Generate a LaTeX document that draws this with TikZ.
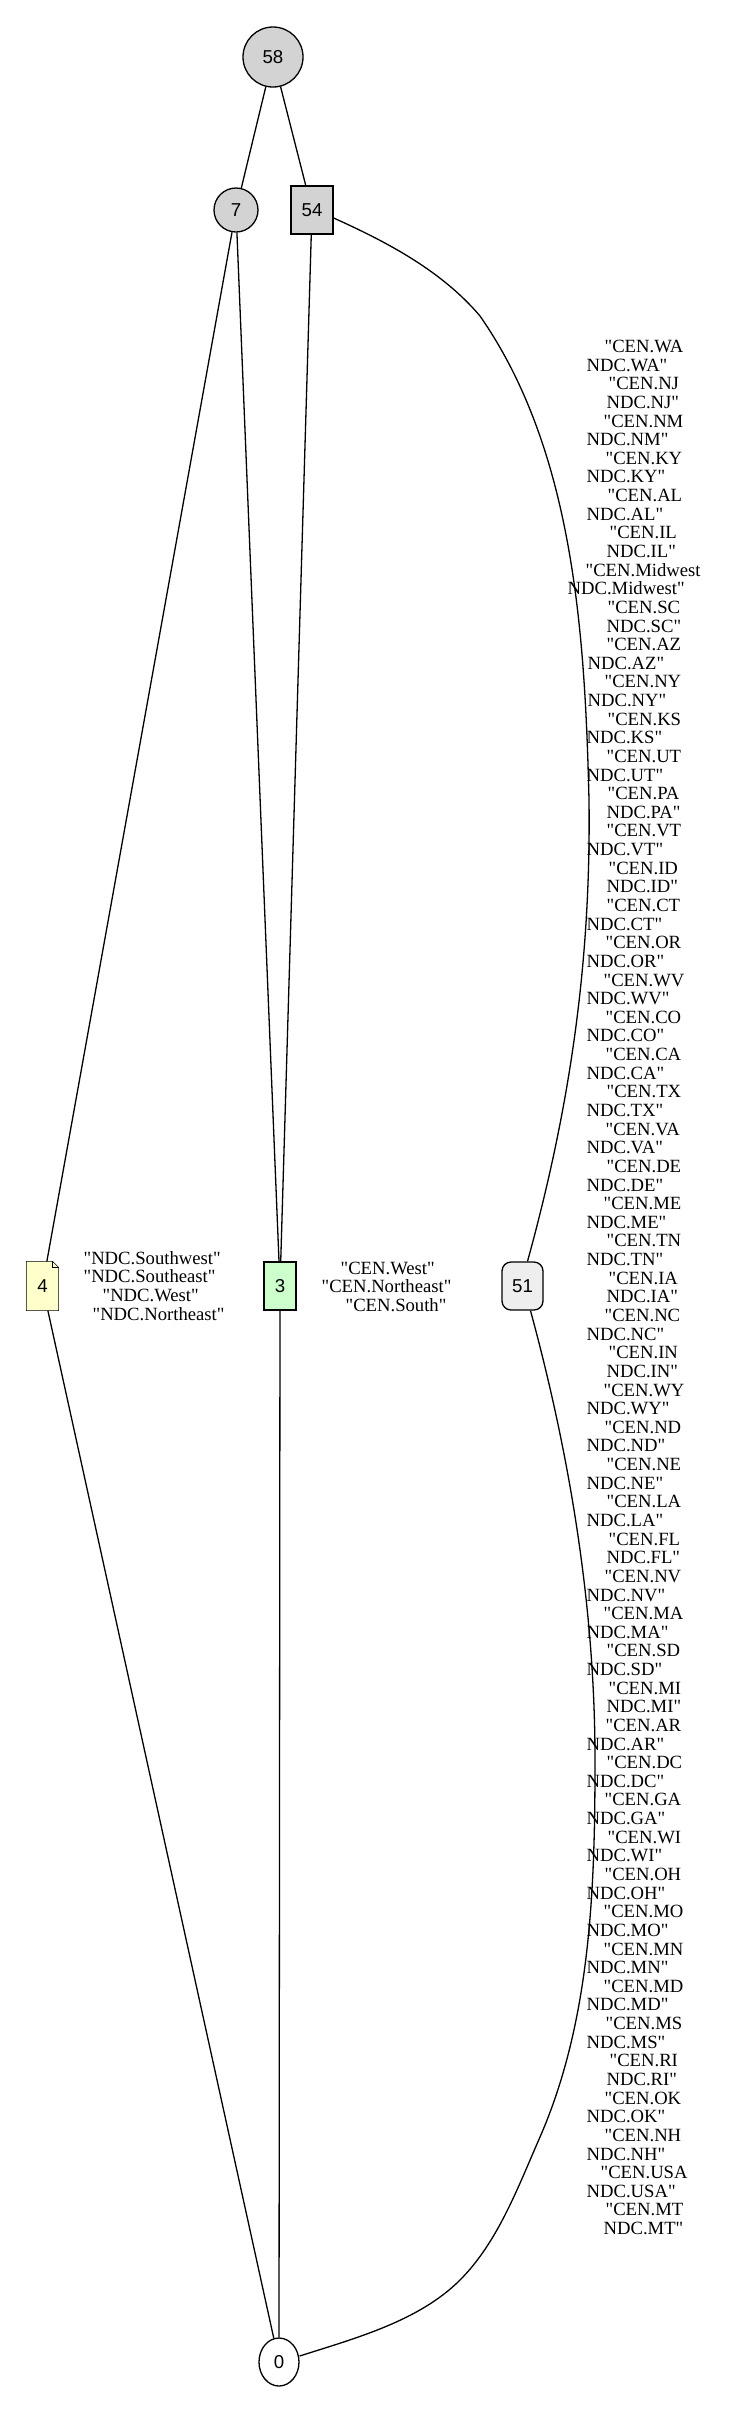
\documentclass[tikz,border=0pt]{standalone}
\usepackage{fontspec}
\setmainfont{Liberation Serif}[Ligatures=TeXOff]
\newfontfamily\nodeFont{Liberation Sans}
\usetikzlibrary{shapes.geometric,backgrounds}

\definecolor{nodeGray}{HTML}{D3D3D3}
\definecolor{noteYellow}{HTML}{FFFFCC}
\definecolor{leafGreen}{HTML}{CCFFCC}
\definecolor{softGray}{HTML}{EEEEEE}

\begin{document}
\begin{tikzpicture}[x=1pt, y=-1pt, line width=1.3pt,
  numNode/.style={draw, inner sep=0pt, font=\nodeFont\fontsize{18.66}{18.64}\selectfont},
  labelLine/.style={inner sep=0pt, anchor=base west, font=\fontsize{18.66}{18.64}\selectfont}]

  \useasboundingbox (0,0) rectangle (744,2413);

  % the nodes
  \node[numNode, circle, fill=nodeGray, minimum size=60pt] (n58) at (273,57) {58};
  \node[numNode, circle, fill=nodeGray, minimum size=44pt] (n7) at (236,210) {7};
  \node[numNode, fill=nodeGray, minimum width=42pt, minimum height=48pt] (n54) at (312,210) {54};
  \node[numNode, draw=none, minimum width=31pt, minimum height=48pt] (n4) at (42.5,1286) {4};
  \node[numNode, fill=leafGreen, minimum width=32pt, minimum height=48pt] (n3) at (280,1286) {3};
  \node[numNode, fill=softGray, rounded corners=9pt, minimum width=41pt, minimum height=48pt] (n51) at (522.5,1286) {51};
  \node[numNode, ellipse, fill=white, minimum width=40pt, minimum height=48pt] (n0) at (279,2362) {0};

  % white page and note shape of node 4
  \begin{scope}[on background layer]
    \fill[white] (0,0) rectangle (744,2413);
    \filldraw[fill=noteYellow] (n4.south west) -- (n4.south east) -- ([yshift=-6pt]n4.north east)
      -- ([xshift=-6pt]n4.north east) -- (n4.north west) -- cycle;
    \draw ([xshift=-6pt]n4.north east) |- ([yshift=-6pt]n4.north east);
  \end{scope}

  % the edges
  \draw (n58) -- (n7);
  \draw (n58) -- (n54);
  \draw (n7) -- (n4);
  \draw (n7) -- (n3);
  \draw (n54) -- (n3);
  \draw (n3) -- (n0);
  \draw (n4) -- (n0);
  \draw ([yshift=-8pt]n54.east) .. controls (387,242) and (442,271) .. (480,316)
    .. controls (574,451) and (585,635) .. (589,800)
    .. controls (591,955) and (572,1100) .. ([xshift=5pt]n51.north);
  \draw ([xshift=8pt]n51.south) .. controls (570,1456) and (595,1608) .. (595,1760)
    .. controls (595,1887) and (591,2020) .. (540,2137)
    .. controls (518,2187) and (498,2242) .. (460,2280)
    .. controls (419,2321) and (356,2338) .. ([yshift=6pt]n0.east);

  % labels beside 4 and 3
  \foreach \txt/\xx [count=\k from 0] in {"NDC.Southwest"/83, "NDC.Southeast"/83, "NDC.West"/102, "NDC.Northeast"/92}
    \node[labelLine] (four\k) at (\xx, 1264.3+\k*18.64) {\txt};
  \foreach \txt/\xx [count=\k from 0] in {"CEN.West"/340, "CEN.Northeast"/321, "CEN.South"/345}
    \node[labelLine] (three\k) at (\xx, 1274+\k*18.64) {\txt};

  % the long label beside 51
  \foreach \txt/\xx [count=\k from 0] in {
    "CEN.WA/604, NDC.WA"/586, "CEN.NJ/608, NDC.NJ"/606, "CEN.NM/603, NDC.NM"/586,
    "CEN.KY/605, NDC.KY"/586, "CEN.AL/607, NDC.AL"/586, "CEN.IL/609, NDC.IL"/606,
    "CEN.Midwest/585, NDC.Midwest"/567, "CEN.SC/607, NDC.SC"/606, "CEN.AZ/606, NDC.AZ"/587,
    "CEN.NY/604, NDC.NY"/587, "CEN.KS/607, NDC.KS"/586, "CEN.UT/606, NDC.UT"/586,
    "CEN.PA/607, NDC.PA"/606, "CEN.VT/606, NDC.VT"/586, "CEN.ID/608, NDC.ID"/606,
    "CEN.CT/606, NDC.CT"/586, "CEN.OR/605, NDC.OR"/586, "CEN.WV/603, NDC.WV"/586,
    "CEN.CO/605, NDC.CO"/586, "CEN.CA/605, NDC.CA"/586, "CEN.TX/606, NDC.TX"/586,
    "CEN.VA/605, NDC.VA"/586, "CEN.DE/606, NDC.DE"/586, "CEN.ME/603, NDC.ME"/586,
    "CEN.TN/606, NDC.TN"/586, "CEN.IA/608, NDC.IA"/606, "CEN.NC/604, NDC.NC"/586,
    "CEN.IN/608, NDC.IN"/606, "CEN.WY/603, NDC.WY"/586, "CEN.ND/604, NDC.ND"/586,
    "CEN.NE/606, NDC.NE"/586, "CEN.LA/606, NDC.LA"/586, "CEN.FL/608, NDC.FL"/606,
    "CEN.NV/604, NDC.NV"/586, "CEN.MA/603, NDC.MA"/586, "CEN.SD/606, NDC.SD"/586,
    "CEN.MI/608, NDC.MI"/606, "CEN.AR/605, NDC.AR"/586, "CEN.DC/606, NDC.DC"/586,
    "CEN.GA/604, NDC.GA"/586, "CEN.WI/607, NDC.WI"/586, "CEN.OH/604, NDC.OH"/586,
    "CEN.MO/603, NDC.MO"/586, "CEN.MN/603, NDC.MN"/586, "CEN.MD/603, NDC.MD"/586,
    "CEN.MS/605, NDC.MS"/586, "CEN.RI/609, NDC.RI"/606, "CEN.OK/604, NDC.OK"/586,
    "CEN.NH/604, NDC.NH"/586, "CEN.USA/600, NDC.USA"/586, "CEN.MT/605, NDC.MT"/603}
    \node[labelLine] (state\k) at (\xx, 352.5+\k*18.634) {\txt};

\end{tikzpicture}
\end{document}
